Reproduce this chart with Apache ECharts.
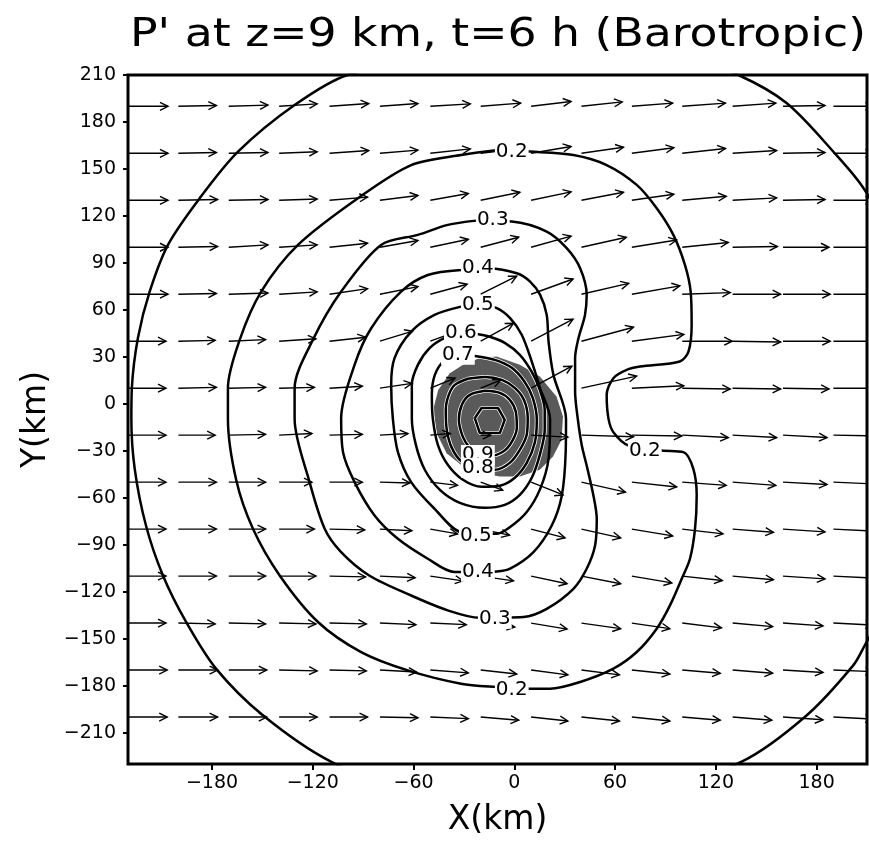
<!DOCTYPE html>
<html>
<head>
<meta charset="utf-8">
<script src="https://cdn.jsdelivr.net/npm/echarts@6/dist/echarts.min.js"></script>
<style>
    html, body { margin: 0; padding: 0; background: #fff; }
    #chart { width: 869px; height: 852px; }
</style>
</head>
<body>
<div id="chart"></div>
<script>
    // axis ticks
    var xTicks = [-180, -120, -60, 0, 60, 120, 180];
    var yTicks = [-210, -180, -150, -120, -90, -60, -30, 0, 30, 60, 90, 120, 150, 180, 210];

    // wind vector grid (km) and components, one row per y
    var vecX = [-230, -200, -170, -140, -110, -80, -50, -20, 10, 40, 70, 100, 130, 160, 190];
    var vecY = [190, 160, 130, 100, 70, 40, 10, -20, -50, -80, -110, -140, -170, -200];
    var vecU = [
        [10, 9.5, 9.8, 9.5, 9.8, 9.5, 10, 10, 10, 10.2, 10.2, 10.8, 10.8, 10.5, 10],
        [10, 9.5, 9.8, 9.5, 9.8, 9.5, 10, 10, 10, 10.5, 10.5, 10.8, 11, 10.5, 10],
        [10, 9.8, 9.8, 9.5, 9.5, 9.5, 9.5, 9.8, 10, 10.5, 10.5, 11, 11, 10.5, 10],
        [10, 9.8, 9.8, 9.5, 9.5, 9.5, 9.5, 9.5, 10, 11.2, 11.2, 11.5, 11.2, 11.5, 11.2],
        [10, 9.5, 9.8, 9.5, 9.5, 9.5, 9.2, 9, 10.5, 11.8, 12, 12, 12, 11.8, 11.8],
        [9.5, 9.2, 9.2, 9.2, 9, 8.2, 8.2, 8.2, 10.5, 13, 13, 12.5, 12, 11.8, 11.8],
        [9.5, 9.5, 9.2, 8.8, 8.2, 8, 6.2, 5, 10.2, 13.8, 13, 12, 12, 11.5, 11.5],
        [9.5, 9.2, 9.2, 8.2, 8.2, 7, 5, 2.5, 9.2, 13, 12.5, 11.5, 11, 11, 11],
        [9.5, 9.5, 9.2, 8.2, 8.2, 7.5, 6.8, 5.5, 8, 11, 11.2, 11, 10.8, 11, 11],
        [9.5, 9.5, 9.2, 8.8, 8.8, 8, 6.8, 7.2, 8.5, 9.8, 10.2, 10.2, 10.2, 10.5, 10.5],
        [9.5, 9.5, 9.2, 9.2, 9, 8.8, 8.2, 8.2, 9, 9.8, 10, 10, 10.2, 10.5, 10.5],
        [9.5, 9.2, 9.2, 9.2, 9.2, 9, 9, 8.5, 9, 9.8, 9.5, 9.8, 10, 10, 10],
        [9.8, 9.8, 9.5, 9.5, 9.2, 9.2, 9.5, 9, 9.2, 9.5, 9.5, 9.5, 10, 10, 10],
        [9.8, 9.8, 9.5, 9.5, 9.5, 9.5, 9.5, 9.5, 9.2, 9.5, 9.5, 9.5, 9.8, 10, 10]
    ];
    var vecV = [
        [0, 0.2, 0.3, 0.6, 0.7, 0.7, 0.6, 0.8, 1.2, 1.1, 0.8, 0.8, 0.8, 0.2, 0],
        [0, 0.2, 0.2, 0.4, 0.7, 0.8, 1.1, 1.2, 1.7, 1.5, 1.4, 1.2, 0.7, 0.2, 0],
        [0, 0.2, 0.2, 0.3, 0.8, 1.2, 1.7, 2, 2.1, 2, 1.5, 1, 0.6, 0.2, 0],
        [0, 0.2, 0.6, 0.6, 1, 1.7, 2, 2.5, 2.8, 2.5, 1.8, 1.2, 0.2, 0, 0],
        [0, 0.2, 0.3, 0.6, 1.4, 1.9, 2.5, 4.5, 3.8, 2.7, 2.1, 0.4, 0, 0, 0],
        [0, 0.2, 0.4, 0.6, 1, 2.5, 3, 4.5, 5.5, 3.5, 1.7, 0, -0.2, 0, 0],
        [0, 0.2, 0.2, 0.2, 0.5, 1.2, 2.5, 2, 5.5, 3, 0.6, -0.2, -0.2, -0.2, 0],
        [0, 0, 0.2, 0.4, 0.2, 0.4, 0.4, 0, -0.5, -0.4, -0.2, -0.6, -0.6, -0.6, -0.2],
        [0, 0, 0, 0, 0, -0.2, -0.8, -2, -3.2, -2.5, -1.2, -0.8, -0.8, -0.6, -0.5],
        [0, 0, 0, 0, -0.2, -0.4, -1.2, -1.5, -2.2, -2.2, -1.7, -1.2, -0.8, -0.7, -0.5],
        [0, 0, 0, 0, -0.2, -0.4, -1.2, -1.2, -1.9, -1.9, -1.7, -1.1, -0.9, -0.7, -0.5],
        [0, -0.2, -0.2, -0.2, -0.2, -0.4, -0.4, -1, -1.5, -1.4, -1.4, -1.2, -0.9, -0.7, -0.5],
        [0, 0, 0, -0.2, -0.2, -0.5, -0.7, -1, -1.2, -1.2, -1, -0.8, -0.8, -0.6, -0.4],
        [0, 0, 0, 0, 0, -0.2, -0.4, -0.8, -1, -1, -1, -0.8, -0.8, -0.7, -0.5]
    ];

    // contours of P' (x km, y km)
    var c01 = [[17, 238], [-99.1, 210], [-130.8, 190.8], [-164.5, 161], [-187.3, 131.3], [-206.2, 101.5], [-217.1, 71.6],
        [-224.1, 42.1], [-227.7, 10.2], [-228, -9.6], [-226, -41.5], [-219.3, -77.7], [-209.2, -109.6], [-195.5, -139.1],
        [-177.6, -169.1], [-149.7, -198.9], [-109.2, -228.5], [-60, -248], [13, -256], [80, -248], [135.4, -228.5],
        [174, -199], [201.8, -167], [208.6, -154.3], [225, -120], [236, -10], [225, 100], [208.6, 136.6], [190, 161],
        [162.1, 192.1], [133.4, 210], [80, 232], [17, 238]];
    var c02 = [[-9.8, 162.1], [-31.7, 158.9], [-61.4, 152.5], [-93.1, 131.3], [-128.8, 101.5], [-150.7, 71.7], [-163.5, 40.9],
        [-170.5, 10.2], [-170.5, -9.6], [-165.5, -49], [-155.6, -79.8], [-139.7, -109.6], [-116.9, -139.3], [-91.2, -158.5],
        [-63.4, -170.2], [-31.7, -178.7], [-10.8, -180.8], [9.2, -181.9], [21.3, -181.9], [39.2, -177.6], [59, -169.1],
        [72.9, -158.5], [84.8, -143.6], [92.7, -128.7], [99.7, -111.7], [104.6, -98.9], [107.6, -79.8], [108.6, -58.5],
        [106.6, -41.5], [100.7, -30.8], [87.8, -29.8], [68, -26.6], [59, -18.1], [56.1, -9.6], [55, 5.7], [59, 16.4],
        [66.9, 21.7], [74.9, 23.8], [98.5, 27], [103.7, 33.4], [105.6, 50.4], [105, 71.7], [101.6, 88.7], [94.7, 107.9],
        [84.8, 124.9], [72.9, 139.8], [55, 152.5], [35.2, 158.9], [9.2, 161.1], [-9.8, 162.1]];
    var c03 = [[-22.7, 117], [-39.6, 114.3], [-57.4, 107.9], [-79.3, 101.5], [-103.1, 71.7], [-119.9, 40.9], [-130.8, 10],
        [-130.8, -9.6], [-121.9, -50], [-112.9, -79.8], [-103.1, -94.7], [-86.4, -109.6], [-61.4, -122.4], [-39.6, -131.9],
        [-20.7, -136.6], [5.5, -136.1], [19.3, -130.9], [35.2, -118.1], [43.1, -105.3], [48.1, -90.4], [49.1, -73.4],
        [47.1, -58.5], [43.1, -39.4], [40.2, -26.6], [37.8, -9.6], [36.2, 7.9], [36.2, 29.2], [38.2, 41.9], [42.1, 56.8],
        [43.1, 69.6], [39.2, 86.6], [31.2, 99.4], [19.3, 110], [-1.5, 116.4], [-22.7, 117]];
    var c04 = [[-31.7, 85.5], [-51.5, 82.3], [-67.4, 71.7], [-85.2, 48.3], [-95.1, 24.9], [-103.1, -9.1], [-102, -30.8],
        [-95.1, -50], [-83.2, -71.3], [-69.3, -86.2], [-51.5, -98.9], [-35.6, -107.4], [-10.4, -107], [-2.5, -105.3],
        [11.4, -94.7], [22.3, -77.7], [28.3, -58.5], [30.6, -30.8], [30.8, -9.6], [23.3, 18.5], [20.4, 39.8], [19.3, 56.8],
        [15.4, 69.6], [9.4, 78.1], [1.5, 83.4], [-15, 86.5], [-31.7, 85.5]];
    var c05 = [[-31.7, 62.1], [-47.5, 56.8], [-61.4, 46.1], [-71.3, 29.2], [-73.3, 12.1], [-72.3, -9.6], [-69.3, -30.8],
        [-61.4, -50], [-47.5, -67], [-31.7, -81.9], [-10.4, -83], [-2.5, -78.7], [7.4, -69.1], [15.4, -54.3], [20.4, -35.1],
        [21.3, -9.6], [15.4, 10], [10.4, 27], [4.5, 44], [-2.5, 54.7], [-10.4, 61.1], [-20, 63], [-31.7, 62.1]];
    var c06 = [[-23.5, 44.7], [-31.8, 45.3], [-41.4, 42.1], [-50.3, 35.7], [-57.4, 24.9], [-61, 12.1], [-61, -9.6],
        [-58.6, -26.2], [-53.3, -42.1], [-44.3, -54.9], [-32.4, -63.2], [-17.6, -66.4], [-5.7, -64.5], [3.3, -58.1],
        [10.4, -47.2], [15.2, -32.6], [18.1, -16.6], [18.1, -3.8], [15.2, 8.9], [10.4, 20.4], [3.3, 31.3], [-5.7, 38.9],
        [-14.6, 42.8], [-23.5, 44.7]];
    var c07 = [[-23.5, 30.6], [-33.6, 31.3], [-41.4, 28.1], [-47.3, 18.5], [-49.1, 5.7], [-48.5, -9.6], [-45.5, -26.2],
        [-39.6, -38.9], [-30.6, -48.5], [-19.3, -53], [-8.6, -52.3], [0.3, -47.2], [7.4, -37.7], [12.2, -24.9],
        [13.4, -10.2], [11, 3.8], [6.2, 14], [-1.5, 23], [-11.6, 28.1], [-23.5, 30.6]];
    var c08 = [[-27.7, 16], [-35.4, 12.1], [-39, 5.7], [-40.8, -3.8], [-40.2, -16.6], [-37.2, -28.1], [-31.2, -37],
        [-21.7, -40.9], [-11.6, -42.1], [-2.7, -37.7], [3.3, -29.4], [7.4, -19.8], [8, -8.9], [5.7, 2.6], [0.3, 10.2],
        [-7.4, 15.3], [-17.6, 17.2], [-27.7, 16]];
    var c09 = [[-17.6, 8.3], [-26.5, 5.7], [-31.2, -0.6], [-33, -10.2], [-30.6, -21.1], [-26.5, -28.1], [-21.7, -32.6],
        [-14.6, -33.2], [-6.8, -30.6], [-1.5, -24.3], [1.5, -15.3], [0.9, -5.1], [-2.7, 2.6], [-8.6, 7], [-17.6, 8.3]];
    var c10 = [[-23.5, -9.1], [-19.5, -2.7], [-9.6, -2.7], [-5.7, -10.2], [-8.6, -18.7], [-20.5, -18.7], [-23.5, -9.1]];

    // shaded region
    var shadePts = [[-20.5, 29.2], [-10.6, 30.2], [3.3, 24.9], [15.2, 17.4], [25.1, 4.7], [29, -8.1], [28.1, -23],
        [23.1, -33.6], [15.2, -42.1], [3.3, -46.4], [-8.6, -46.4], [-20.5, -44.2], [-30.5, -40], [-40.3, -31.5],
        [-46.3, -18.7], [-48.3, -3.8], [-45.3, 8.9], [-38.4, 19.6], [-30.5, 24.9]];

    // contour labels [x, y, text]
    var contourLabels = [
        [-1.5, 160.8, '0.2'], [77.7, -30, '0.2'], [-1.5, -182.5, '0.2'],
        [-12.8, 117.4, '0.3'], [-11.6, -137.2, '0.3'],
        [-21.7, 86.8, '0.4'], [-21.7, -107.2, '0.4'],
        [-21.7, 63.2, '0.5'], [-22.9, -84.3, '0.5'],
        [-31.8, 45.3, '0.6'], [-33.6, 31.3, '0.7'],
        [-21.7, -32.6, '0.9'], [-21.7, -40.8, '0.8']
    ];

    var titleText = "P' at z=9 km, t=6 h (Barotropic)";
    var titleFont = '39px "DejaVu Sans"';

    var chart = echarts.init(document.getElementById('chart'));

    var vecData = [];
    vecY.forEach(function (y, i) {
        vecX.forEach(function (x, j) {
            vecData.push([x, y, vecU[i][j], vecV[i][j]]);
        });
    });

    function contourSeries(pts, smooth, color, width, z) {
        return {
            type: 'line',
            data: pts,
            symbol: 'none',
            smooth: smooth,
            clip: true,
            silent: true,
            z: z,
            lineStyle: { color: color, width: width }
        };
    }

    // stretch title to the plot width, like the original
    var ctx = document.createElement('canvas').getContext('2d');
    ctx.font = titleFont;
    var titleScale = 736 / ctx.measureText(titleText).width;

    var series = [{
        type: 'custom',
        clip: true,
        silent: true,
        z: 2,
        data: [0],
        renderItem: function (params, api) {
            var pts = shadePts.map(function (p) { return api.coord(p); });
            return { type: 'polygon', shape: { points: pts }, style: { fill: '#5a5a5a' } };
        }
    }];
    // thin white halos under the inner contours, seen over the shading
    [c06, c07, c08, c09].forEach(function (c) {
        series.push(contourSeries(c, 0.3, '#fff', 4, 3));
    });
    series.push(contourSeries(c10, false, '#fff', 4, 3));
    [c01, c02, c03, c04, c05, c06, c07, c08, c09].forEach(function (c) {
        series.push(contourSeries(c, 0.3, '#000', 2.5, 4));
    });
    series.push(contourSeries(c10, false, '#000', 2.5, 4));

    series.push({
        type: 'custom',
        clip: true,
        silent: true,
        z: 5,
        data: vecData,
        renderItem: function (params, api) {
            var p = api.coord([api.value(0), api.value(1)]);
            var dx = api.value(2) * 4, dy = -api.value(3) * 4;
            var ex = p[0] + dx, ey = p[1] + dy;
            var len = Math.sqrt(dx * dx + dy * dy);
            var ux = dx / len, uy = dy / len;
            var h = 8, w = 4;
            var a = [ex - ux * h - uy * w, ey - uy * h + ux * w];
            var b = [ex - ux * h + uy * w, ey - uy * h - ux * w];
            return {
                type: 'group',
                children: [
                    { type: 'line', shape: { x1: p[0], y1: p[1], x2: ex, y2: ey },
                      style: { stroke: '#000', lineWidth: 1.4 } },
                    { type: 'polyline', shape: { points: [a, [ex, ey], b] },
                      style: { stroke: '#000', lineWidth: 1.4, fill: null } }
                ]
            };
        }
    });

    series.push({
        type: 'custom',
        silent: true,
        z: 6,
        data: contourLabels,
        renderItem: function (params, api) {
            var p = api.coord([api.value(0), api.value(1)]);
            return {
                type: 'text',
                x: p[0], y: p[1],
                style: {
                    text: contourLabels[params.dataIndex][2],
                    font: '20px "DejaVu Sans"', fill: '#000',
                    align: 'center', verticalAlign: 'middle',
                    backgroundColor: '#fff', padding: [0, 1]
                }
            };
        }
    });

    var option = {
        animation: false,
        backgroundColor: '#fff',
        grid: {
            left: 128, right: 2, top: 75, bottom: 88,
            show: true, borderColor: '#000', borderWidth: 3
        },
        graphic: [{
            type: 'text',
            x: 130, y: 36,
            scaleX: titleScale,
            style: {
                text: titleText, font: titleFont, fill: '#000',
                align: 'left', verticalAlign: 'middle'
            }
        }],
        xAxis: {
            type: 'value', min: -230, max: 210,
            name: 'X(km)', nameLocation: 'middle', nameGap: 40,
            nameTextStyle: { fontFamily: 'DejaVu Sans', fontSize: 33, color: '#000' },
            axisLine: { show: false, onZero: false },
            axisTick: { show: true, length: 6, customValues: xTicks, lineStyle: { color: '#000', width: 2 } },
            axisLabel: {
                customValues: xTicks, margin: 10, color: '#000',
                fontFamily: 'DejaVu Sans', fontSize: 19,
                formatter: function (v) { return String(v).replace('-', '\u2212'); }
            },
            splitLine: { show: false }
        },
        yAxis: {
            type: 'value', min: -230, max: 210,
            name: 'Y(km)', nameLocation: 'middle', nameGap: 73, nameRotate: 90,
            nameTextStyle: { fontFamily: 'DejaVu Sans', fontSize: 33, color: '#000' },
            axisLine: { show: false, onZero: false },
            axisTick: { show: true, length: 5, customValues: yTicks, lineStyle: { color: '#000', width: 2 } },
            axisLabel: {
                customValues: yTicks, margin: 12, color: '#000',
                fontFamily: 'DejaVu Sans', fontSize: 19,
                formatter: function (v) { return String(v).replace('-', '\u2212'); }
            },
            splitLine: { show: false }
        },
        series: series
    };

    chart.setOption(option);
</script>
</body>
</html>
